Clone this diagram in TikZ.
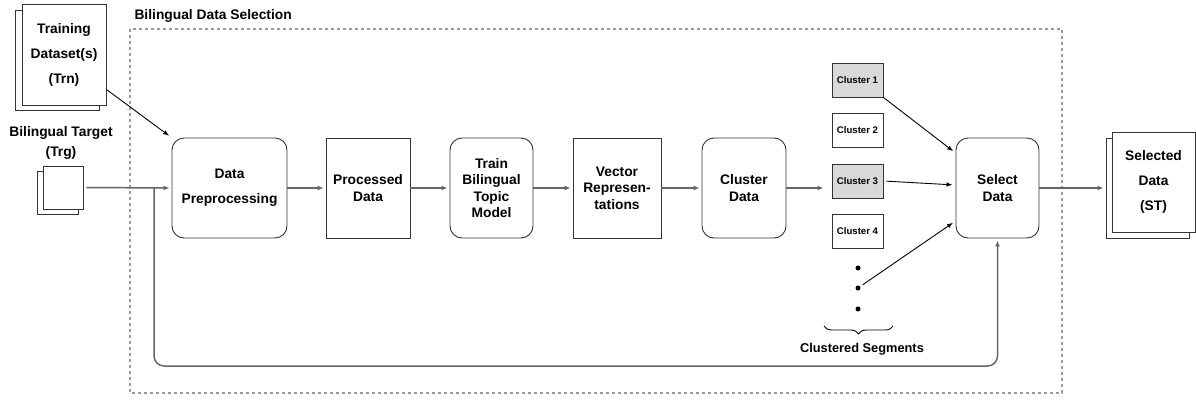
\documentclass[tikz,border=0pt]{standalone}
\usepackage{fontspec}
\setmainfont{Liberation Sans}
\usepackage{tikz}
\usetikzlibrary{arrows.meta}
\usetikzlibrary{decorations.pathreplacing}
\definecolor{boxline}{HTML}{333333}
\definecolor{flowgray}{HTML}{666666}
\definecolor{clfill}{HTML}{D9D9D9}
\definecolor{framegray}{HTML}{999999}
\tikzset{
    base/.style={draw=boxline, line width=0.9pt, fill=white, align=center, inner sep=0pt,
        font=\bfseries\fontsize{13.8}{16.5}\selectfont},
    wide text/.style={font=\bfseries\fontsize{13.8}{25}\selectfont},
    proc/.style={base, rounded corners=12pt, minimum height=100pt},
    store/.style={base, minimum height=100pt},
    doc/.style={base},
    clbox/.style={base, minimum width=51pt, minimum height=34pt,
        font=\bfseries\fontsize{9.6}{11}\selectfont},
    dot/.style={circle, fill=black, inner sep=0pt, minimum size=5pt},
    flow/.style={draw=flowgray, line width=1.5pt, -{Latex[length=6pt,width=5pt]}, shorten >=2pt},
    pick/.style={draw=black, line width=0.9pt, -{Latex[length=6pt,width=4.5pt]}, shorten >=3pt},
}

\begin{document}
\begin{tikzpicture}[x=1pt,y=-1pt]
\useasboundingbox (0,0) rectangle (1196,399);
% selection frame
\draw[framegray, line width=2pt, dash pattern=on 3pt off 3pt] (130,29) rectangle (1062,393);
\node[anchor=west, wide text] (frametitle) at (131,16) {Bilingual Data Selection};

% inputs
\node[doc, minimum width=84pt, minimum height=100pt] (trnback) at (57,60) {};
\node[doc, wide text, minimum width=84pt, minimum height=101pt] (trn) at (64,54.5) {Training\\Dataset(s)\\(Trn)};
\node[align=center, font=\bfseries\fontsize{13.8}{20}\selectfont] (trglabel) at (61,143) {Bilingual Target\\(Trg)};
\node[doc, minimum width=41pt, minimum height=43pt] (trgback) at (57.5,192.5) {};
\node[doc, minimum width=40pt, minimum height=43pt] (trg) at (63,187.5) {};

% pipeline
\node[proc, wide text, minimum width=115pt] (prep) at (229.5,188) {Data\\Preprocessing};
\node[store, minimum width=84pt] (procd) at (368,188) {Processed\\Data};
\node[proc, minimum width=83pt] (train) at (491.5,188) {Train\\Bilingual\\Topic\\Model};
\node[store, minimum width=88pt] (vect) at (617,188) {Vector\\Represen-\\tations};
\node[proc, minimum width=84pt] (clus) at (744,188) {Cluster\\Data};

% clusters
\node[clbox, fill=clfill] (c1) at (857.5,80) {Cluster 1};
\node[clbox] (c2) at (857.5,130.5) {Cluster 2};
\node[clbox, fill=clfill] (c3) at (857.5,181) {Cluster 3};
\node[clbox] (c4) at (857.5,231.5) {Cluster 4};
\node[dot] (d1) at (858,268) {};
\node[dot] (d2) at (858,288) {};
\node[dot] (d3) at (858,309) {};
\draw[decorate, decoration={brace, mirror, amplitude=8pt}, line width=0.9pt]
    (824,326) -- (893,326);
\node[font=\bfseries\fontsize{12.8}{14}\selectfont] (seglabel) at (862,349) {Clustered Segments};

\node[proc, minimum width=83pt] (sel) at (997.5,188) {Select\\Data};

% output
\node[doc, minimum width=83pt, minimum height=100pt] (stback) at (1147.5,188) {};
\node[doc, wide text, minimum width=83pt, minimum height=100pt] (st) at (1153.5,182) {Selected\\Data\\(ST)};

% connectors
\coordinate (split) at (154,188);
\coordinate (loop) at (154,366);
\draw[flow, shorten <=3pt] (trg.east) -- (prep.west);
\draw[pick, shorten <=1pt] ([yshift=16pt]trn.south east) -- (prep.north west);
\draw[flow, rounded corners=10pt] (split) -- (loop) -| (sel.south);
\draw[flow] (prep) -- (procd);
\draw[flow] (procd) -- (train);
\draw[flow] (train) -- (vect);
\draw[flow] (vect) -- (clus);
\draw[flow, shorten >=8pt] (clus.east) -- (c3.west |- clus.east);
\draw[pick] (c1.south east) -- ([yshift=35pt]sel.west);
\draw[pick, shorten <=3pt] (c3.east) -- ([yshift=3pt]sel.west);
\draw[pick, shorten <=3pt] (d2) -- ([yshift=-33pt]sel.west);
\draw[flow] (sel.east) -- (stback.west);
\end{tikzpicture}
\end{document}
